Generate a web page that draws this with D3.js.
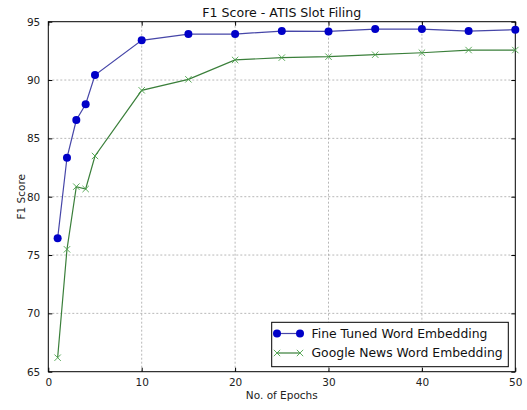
<!DOCTYPE html>
<html><head><meta charset="utf-8">
<script src="https://cdn.jsdelivr.net/npm/d3@7"></script>
<style>body{margin:0;background:#fff}svg{display:block}text{font-family:"DejaVu Sans",sans-serif}</style>
</head><body><svg id="c" width="527" height="410"></svg>
<script>
const epochs = [1,2,3,4,5,10,15,20,25,30,35,40,45,50];
const fineTuned = [76.43,83.34,86.57,87.92,90.43,93.4,93.94,93.94,94.2,94.17,94.37,94.37,94.2,94.31];
const googleNews = [66.2,75.49,80.86,80.66,83.49,89.12,90.06,91.72,91.92,92.0,92.17,92.34,92.57,92.57];
const xTicks = [0,10,20,30,40,50];
const yTicks = [65,70,75,80,85,90,95];
const seriesNames = ["Fine Tuned Word Embedding","Google News Word Embedding"];
const title = "F1 Score - ATIS Slot Filing";

const svg = d3.select("#c");
const L=48.3,R=515.3,T=21.7,B=371.7;
const x = d3.scaleLinear().domain([0,50]).range([L,R]);
const y = d3.scaleLinear().domain([65,95]).range([B,T]);

// grid
const g = svg.append("g");
g.selectAll(".gx").data(xTicks.slice(1,-1)).enter().append("line")
 .attr("x1",d=>x(d)).attr("x2",d=>x(d)).attr("y1",T).attr("y2",B)
 .attr("stroke","#999").attr("stroke-width",0.7).attr("stroke-dasharray","2,2");
g.selectAll(".gy").data(yTicks.slice(1,-1)).enter().append("line")
 .attr("y1",d=>y(d)).attr("y2",d=>y(d)).attr("x1",L).attr("x2",R)
 .attr("stroke","#999").attr("stroke-width",0.7).attr("stroke-dasharray","2,2");

// axes
const xa = svg.append("g").attr("transform",`translate(0,${B})`)
 .call(d3.axisBottom(x).tickValues(xTicks).tickSize(-4).tickPadding(7).tickFormat(d3.format("d")));
const xt = svg.append("g").attr("transform",`translate(0,${T})`)
 .call(d3.axisTop(x).tickValues(xTicks).tickSize(-4).tickFormat(""));
const ya = svg.append("g").attr("transform",`translate(${L},0)`)
 .call(d3.axisLeft(y).tickValues(yTicks).tickSize(-4).tickPadding(8).tickFormat(d3.format("d")));
const yr = svg.append("g").attr("transform",`translate(${R},0)`)
 .call(d3.axisRight(y).tickValues(yTicks).tickSize(-4).tickFormat(""));
[xa,xt,ya,yr].forEach(a=>{a.select(".domain").remove();a.selectAll("line").attr("stroke","#000");
 a.selectAll("text").attr("font-family","DejaVu Sans").attr("font-size",10.5).attr("fill","#222");});
svg.append("rect").attr("x",L).attr("y",T).attr("width",R-L).attr("height",B-T)
 .attr("fill","none").attr("stroke","#000").attr("stroke-width",1);

// lines
const line = (vals)=>d3.line().x((d,i)=>x(epochs[i])).y(d=>y(d))(vals);
svg.append("path").attr("d",line(fineTuned)).attr("fill","none").attr("stroke","#4646a8").attr("stroke-width",1.2);
svg.append("path").attr("d",line(googleNews)).attr("fill","none").attr("stroke","#3a7f3a").attr("stroke-width",1.2);
svg.selectAll(".dot").data(fineTuned).enter().append("circle")
 .attr("cx",(d,i)=>x(epochs[i])).attr("cy",d=>y(d)).attr("r",4).attr("fill","#0000c8");
const cross = (sel,cx,cy,s)=>{sel.append("path").attr("d",`M${cx-s},${cy-s}L${cx+s},${cy+s}M${cx-s},${cy+s}L${cx+s},${cy-s}`)
 .attr("stroke","#4aa24a").attr("stroke-width",0.9).attr("fill","none");};
googleNews.forEach((d,i)=>cross(svg,x(epochs[i]),y(d),3.2));

// legend
const lg = svg.append("g");
lg.append("rect").attr("x",271.7).attr("y",322.3).attr("width",236.6).attr("height",44.4)
 .attr("fill","#fff").attr("stroke","#000").attr("stroke-width",1);
lg.append("line").attr("x1",277).attr("x2",300).attr("y1",333.5).attr("y2",333.5).attr("stroke","#4646a8").attr("stroke-width",1.2);
lg.append("circle").attr("cx",277).attr("cy",333.5).attr("r",4).attr("fill","#0000c8");
lg.append("circle").attr("cx",300).attr("cy",333.5).attr("r",4).attr("fill","#0000c8");
lg.append("line").attr("x1",277).attr("x2",300).attr("y1",353).attr("y2",353).attr("stroke","#3a7f3a").attr("stroke-width",1.2);
cross(lg,277,353,3.2); cross(lg,300,353,3.2);
lg.selectAll("text").data(seriesNames).enter().append("text")
 .attr("x",311.5).attr("y",(d,i)=>338.2+i*19.2).attr("font-size",12.4).attr("fill","#111").text(d=>d);

// titles
svg.append("text").attr("x",(L+R)/2).attr("y",16.8).attr("text-anchor","middle").attr("font-size",12.6).attr("fill","#111").text(title);
svg.append("text").attr("x",(L+R)/2).attr("y",399).attr("text-anchor","middle").attr("font-size",10.5).attr("fill","#222").text("No. of Epochs");
svg.append("text").attr("transform",`translate(25,${(T+B)/2}) rotate(-90)`).attr("text-anchor","middle").attr("font-size",10.5).attr("fill","#222").text("F1 Score");
</script></body></html>
